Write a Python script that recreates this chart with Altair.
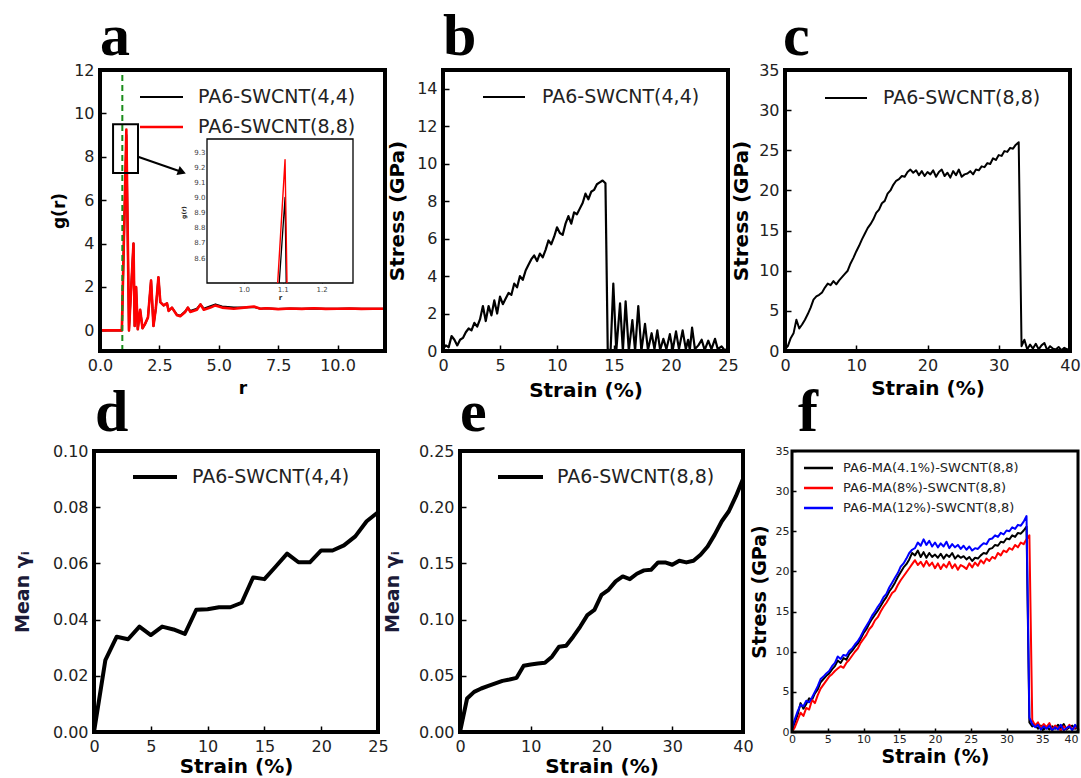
import altair as alt
import pandas as pd

FONT = "DejaVu Sans"
SERIF = "Liberation Serif"
LAB = "#222222"

letters = ["a", "b", "c", "d", "e", "f"]

# ---------------- (a) radial distribution function ----------------
a_r = [0.0, 0.92, 1.11, 1.22, 1.41, 1.46, 1.52, 1.59, 1.69, 1.79,
       1.90, 2.02, 2.15, 2.25, 2.35, 2.46, 2.54, 2.68, 2.82, 2.89,
       3.03, 3.24, 3.38, 3.59, 3.70, 3.80, 4.08, 4.23, 4.37, 4.65,
       4.86, 5.14, 5.63, 6.06, 6.48, 6.76, 7.0, 7.5, 8.0, 8.5,
       9.0, 9.5, 10.0, 10.5, 11.0, 11.5, 12.0]
a_g_44 = [0.0, 0.0, 9.0, 0.0, 4.0, 0.2, 2.0, 0.05, 0.95, 0.1,
          0.3, 0.6, 2.3, 0.2, 1.0, 2.45, 1.3, 1.15, 1.25, 0.9,
          1.05, 0.72, 0.68, 0.88, 1.05, 0.9, 1.0, 1.2, 1.0, 1.12,
          1.2, 1.1, 1.05, 1.05, 1.08, 1.0, 1.02, 0.99, 1.01, 1.0,
          1.01, 1.0, 1.0, 1.01, 1.0, 1.0, 1.0]
a_g_88 = [0.0, 0.0, 9.25, 0.0, 4.0, 0.2, 2.0, 0.05, 0.95, 0.1,
          0.3, 0.6, 2.3, 0.2, 1.0, 2.45, 1.3, 1.15, 1.25, 0.9,
          1.05, 0.7, 0.65, 0.85, 1.05, 0.85, 0.95, 1.2, 0.95, 1.05,
          1.15, 1.05, 1.0, 1.05, 1.1, 1.0, 1.02, 0.98, 1.01, 0.99,
          1.02, 0.99, 1.0, 1.01, 0.99, 1.0, 1.0]
a_xlim = [0.0, 12.0]
a_ylim = [-0.95, 12.0]
a_vline_r = [0.94]
a_zoom_r = [0.55, 1.6]
a_zoom_g = [7.25, 9.5]
a_arrow_r = [1.6, 3.45]
a_arrow_g = [8.0, 7.3]
a_labels = ["PA6-SWCNT(4,4)", "PA6-SWCNT(8,8)"]
ins_xlim = [0.905, 1.281]
ins_ylim = [8.436, 9.386]
ins_r_44 = [1.091, 1.106, 1.109]
ins_g_44 = [8.436, 9.0, 8.436]
ins_r_88 = [1.087, 1.106, 1.111]
ins_g_88 = [8.436, 9.25, 8.436]

# ---------------- (b) PA6-SWCNT(4,4) stress-strain ----------------
b_rise = [0.1, 0.3, 0.2, 0.8, 0.6, 0.3, 0.6, 0.7, 1.0, 1.2,
          1.1, 1.5, 1.3, 1.7, 2.4, 1.6, 2.4, 1.9, 2.7, 2.0,
          2.9, 2.5, 2.8, 3.1, 3.0, 3.6, 3.4, 4.0, 3.8, 4.3,
          4.6, 4.9, 5.1, 4.8, 5.2, 5.0, 5.4, 5.9, 5.7, 6.1,
          6.6, 6.3, 6.2, 6.8, 7.2, 6.8, 7.4, 7.3, 7.6, 7.9,
          8.4, 8.1, 8.5, 8.6, 8.9, 9.0, 9.1, 8.95]
b_post_s = [14.45, 14.7, 14.94, 15.2, 15.53, 15.78, 16.02, 16.3, 16.61, 16.85,
            17.13, 17.4, 17.72, 17.98, 18.3, 18.55, 18.8, 19.05, 19.33, 19.6,
            19.9, 20.15, 20.44, 20.7, 21.02, 21.3, 21.5, 21.65, 21.85, 22.1,
            22.4, 22.69, 22.95, 23.27, 23.55, 23.86, 24.1, 24.44, 24.75, 25.0]
b_post_v = [0.1, 0.0, 3.6, 0.0, 2.55, 0.0, 2.65, 0.0, 1.65, 0.0,
            2.4, 0.0, 1.45, 0.05, 0.95, 0.1, 1.1, 0.05, 0.65, 0.1,
            0.9, 0.05, 1.05, 0.1, 1.1, 0.1, 0.6, 0.05, 1.25, 0.1,
            0.3, 0.6, 0.05, 0.55, 0.1, 0.65, 0.1, 0.25, 0.0, 0.2]
b_label = ["PA6-SWCNT(4,4)"]

# ---------------- (c) PA6-SWCNT(8,8) stress-strain (step 0.4 %) ----------------
c_vals = [0.2, 0.6, 1.6, 2.2, 3.9, 2.8, 3.3, 3.9, 4.6, 5.4,
          6.4, 6.8, 7.0, 7.3, 7.9, 8.4, 8.2, 8.7, 8.3, 8.8,
          9.2, 9.6, 10.0, 10.9, 11.6, 12.4, 13.1, 13.9, 14.6, 15.3,
          15.8, 16.4, 17.2, 17.6, 18.4, 18.7, 19.6, 20.0, 20.7, 21.2,
          21.4, 21.8, 21.7, 22.3, 22.6, 22.2, 22.5, 21.9, 22.4, 21.8,
          22.3, 22.0, 22.5, 21.7, 22.3, 22.6, 21.8, 22.2, 21.6, 22.4,
          21.9, 22.6, 21.7, 22.0, 22.1, 22.4, 22.0, 22.6, 22.5, 23.0,
          22.9, 23.4, 23.3, 24.0, 23.8, 24.4, 24.3, 24.9, 24.8, 25.3,
          25.2, 25.7, 26.0, 0.6, 1.4, 0.2, 0.8, 0.3, 0.9, 0.2,
          0.7, 1.0, 0.1, 0.6, 0.3, 0.2, 0.5, 0.1, 0.4, 0.2,
          0.3]
c_label = ["PA6-SWCNT(8,8)"]

# ---------------- (d), (e) mean gamma_i ----------------
d_vals = [0.0, 0.0256, 0.0339, 0.033, 0.0375, 0.0345, 0.0375, 0.0365, 0.0349, 0.0435,
          0.0437, 0.0444, 0.0444, 0.046, 0.055, 0.0544, 0.0589, 0.0635, 0.0604, 0.0604,
          0.0646, 0.0646, 0.0664, 0.0696, 0.075, 0.0782]
e_vals = [0.0, 0.0298, 0.0357, 0.0387, 0.041, 0.0432, 0.0455, 0.0467, 0.0482, 0.0589,
          0.0601, 0.061, 0.0616, 0.067, 0.0759, 0.0768, 0.0848, 0.0938, 0.104, 0.1086,
          0.122, 0.1265, 0.134, 0.1384, 0.136, 0.1408, 0.1438, 0.1443, 0.1509, 0.1509,
          0.1488, 0.1524, 0.1509, 0.1524, 0.1577, 0.165, 0.1756, 0.1875, 0.1964, 0.2098,
          0.225]
d_label = ["PA6-SWCNT(4,4)"]
e_label = ["PA6-SWCNT(8,8)"]

# ---------------- (f) PA6-MA-SWCNT(8,8) (step 0.4 %) ----------------
f_black = [0.2, 1.2, 2.2, 3.6, 2.9, 3.5, 4.2, 4.0, 4.8, 5.3,
           6.2, 6.6, 7.0, 7.3, 7.8, 8.2, 8.9, 8.6, 9.2, 9.0,
           9.7, 10.1, 10.6, 11.0, 11.6, 12.3, 12.8, 13.5, 14.1, 14.6,
           15.1, 15.7, 16.3, 16.8, 17.5, 18.0, 18.6, 19.3, 19.9, 20.5,
           20.9, 21.5, 22.3, 22.0, 22.6, 21.8, 22.4, 21.7, 22.3, 21.8,
           22.1, 21.7, 22.2, 21.6, 22.1, 21.8, 22.3, 21.6, 22.0, 21.7,
           21.9, 21.5, 21.8, 21.3, 21.7, 21.6, 22.0, 22.3, 22.2, 22.8,
           22.9, 23.3, 23.2, 23.7, 23.6, 24.1, 24.0, 24.5, 24.3, 24.8,
           24.7, 25.1, 25.6, 1.2, 0.7, 0.9, 0.4, 0.8, 0.3, 0.6,
           0.3, 0.7, 0.4, 0.9, 0.5, 1.0, 0.3, 0.6, 0.8, 0.4,
           0.7]
f_red = [0.0, 0.6, 1.5, 2.4, 2.0, 3.0, 2.8, 4.0, 3.6, 4.6,
         5.4, 5.9, 6.4, 6.9, 7.2, 7.6, 7.9, 8.2, 8.0, 8.6,
         9.0, 9.5, 10.0, 10.4, 11.1, 11.6, 12.1, 12.8, 13.2, 13.9,
         14.3, 15.0, 15.6, 16.1, 16.7, 17.3, 17.6, 18.3, 18.9, 19.4,
         19.9, 20.4, 20.9, 21.4, 20.8, 21.2, 20.6, 21.3, 20.7, 21.1,
         20.4, 21.0, 20.3, 20.9, 20.5, 21.2, 20.4, 20.9, 20.2, 20.8,
         20.6, 20.3, 21.0, 20.5, 21.1, 20.7, 21.4, 21.0, 21.6, 21.3,
         21.8, 21.6, 22.3, 22.0, 22.6, 22.4, 22.9, 22.7, 23.3, 23.0,
         23.6, 23.4, 24.0, 24.5, 1.5, 0.8, 1.2, 0.5, 1.0, 0.6,
         1.1, 0.3, 0.8, 0.5, 0.2, 0.7, 0.4, 0.9, 0.3, 0.6,
         0.5]
f_blue = [0.4, 1.6, 2.6, 3.4, 3.2, 3.9, 3.7, 4.3, 5.0, 5.7,
          6.6, 6.9, 7.3, 7.6, 8.2, 8.6, 9.4, 9.1, 9.6, 9.5,
          10.1, 10.4, 10.9, 11.3, 11.9, 12.6, 13.2, 13.8, 14.5, 15.0,
          15.6, 16.1, 16.8, 17.2, 18.0, 18.6, 19.2, 19.8, 20.6, 21.0,
          21.6, 22.3, 22.7, 22.9, 23.6, 23.2, 24.0, 23.3, 23.8, 23.1,
          23.6, 23.0, 23.5, 23.1, 23.7, 22.9, 23.4, 23.0, 23.3, 22.8,
          23.2, 22.7, 23.1, 22.6, 22.9, 22.8, 23.2, 23.5, 23.4, 24.0,
          24.1, 24.5, 24.3, 24.8, 24.6, 25.1, 25.0, 25.5, 25.3, 25.8,
          25.7, 26.2, 26.9, 1.8, 1.0, 0.6, 0.9, 0.3, 0.7, 0.4,
          0.8, 0.2, 0.6, 0.3, 0.9, 0.2, 0.5, 0.7, 0.2, 0.9,
          0.4]
f_labels = ["PA6-MA(4.1%)-SWCNT(8,8)", "PA6-MA(8%)-SWCNT(8,8)", "PA6-MA(12%)-SWCNT(8,8)"]
f_colors = ["#000000", "#ff0000", "#0000ff"]


# ---------------- helpers ----------------
def make_scales(ox, oy, w, h, xdom, ydom):
    xs = alt.Scale(domain=xdom, range=[ox, ox + w], nice=False, zero=False)
    ys = alt.Scale(domain=ydom, range=[oy + h, oy], nice=False, zero=False)
    return xs, ys


def make_axes(ox, oy, w, h, H, xvals, yvals, xfmt, yfmt, xtitle, ytitle,
              xt_dy, yt_dx, lab_fs=16, xt_fs=20, yt_fs=20, xpad=6, ypad=6,
              tick=6, ytitle_color="black", xlabel_align="center"):
    xa = alt.Axis(values=xvals, format=xfmt, orient="bottom",
                  offset=-(H - oy - h) - tick, tickSize=tick, tickWidth=1.5,
                  tickColor="black", domain=False, grid=False, labelFlush=False,
                  labelOverlap=False, labelFont=FONT, labelFontSize=lab_fs,
                  labelColor=LAB, labelPadding=xpad, labelAlign=xlabel_align,
                  title=xtitle, titleFont=FONT, titleFontSize=xt_fs,
                  titleFontWeight="bold", titleColor="black",
                  titleX=ox + w / 2, titleY=xt_dy + tick, titleAlign="center",
                  titleBaseline="middle", titleAngle=0)
    ya = alt.Axis(values=yvals, format=yfmt, orient="left", offset=-(ox + tick),
                  tickSize=tick, tickWidth=1.5, tickColor="black", domain=False,
                  grid=False, labelFlush=False, labelOverlap=False, labelFont=FONT,
                  labelFontSize=lab_fs, labelColor=LAB, labelPadding=ypad,
                  title=ytitle, titleFont=FONT, titleFontSize=yt_fs,
                  titleFontWeight="bold", titleColor=ytitle_color,
                  titleX=yt_dx - tick, titleY=oy + h / 2, titleAlign="center",
                  titleBaseline="middle", titleAngle=270)
    return xa, ya


def line_layer(df, xf, yf, xs, ys, xa, ya, color, sw):
    return alt.Chart(df).mark_line(color=color, strokeWidth=sw, clip=True,
                                   strokeJoin="round").encode(
        x=alt.X(f"{xf}:Q", scale=xs, axis=xa),
        y=alt.Y(f"{yf}:Q", scale=ys, axis=ya))


def frame_layer(xdom, ydom, xs, ys, xa, ya, sw, fill_opacity=0.0, fill="white"):
    df = pd.DataFrame({"fx0": [xdom[0]], "fx1": [xdom[1]],
                       "fy0": [ydom[0]], "fy1": [ydom[1]]})
    return alt.Chart(df).mark_rect(fill=fill, fillOpacity=fill_opacity,
                                   stroke="black", strokeWidth=sw).encode(
        x=alt.X("fx0:Q", scale=xs, axis=xa), x2=alt.X2("fx1"),
        y=alt.Y("fy0:Q", scale=ys, axis=ya), y2=alt.Y2("fy1"))


def legend_rule(x1, x2, y, color, sw):
    return alt.Chart(pd.DataFrame({"k": [0]})).mark_rule(
        color=color, strokeWidth=sw).encode(
        x=alt.value(x1), x2=alt.value(x2), y=alt.value(y))


def legend_text(label, x, y, fs):
    return alt.Chart(pd.DataFrame({"label": [label]})).mark_text(
        align="left", baseline="middle", font=FONT, fontSize=fs,
        color=LAB).encode(x=alt.value(x), y=alt.value(y), text="label:N")


def letter_layer(ch, x, y):
    return alt.Chart(pd.DataFrame({"letter": [ch]})).mark_text(
        align="left", baseline="alphabetic", font=SERIF, fontSize=60,
        fontWeight="bold", color="black").encode(
        x=alt.value(x), y=alt.value(y), text="letter:N")


# ---------------- panel a ----------------
ox, oy, w, h, W, H = 6, 0, 285, 281, 349, 381
xs, ys = make_scales(ox, oy, w, h, a_xlim, a_ylim)
xa, ya = make_axes(ox, oy, w, h, H, [0, 2.5, 5, 7.5, 10], [0, 2, 4, 6, 8, 10, 12],
                   ".1f", "d", "r", "g(r)", 37, -41, xt_fs=17, yt_fs=17)
a_df = pd.DataFrame({"r": a_r, "g44": a_g_44, "g88": a_g_88})
a_main = alt.layer(
    line_layer(a_df, "r", "g44", xs, ys, xa, ya, "black", 2),
    line_layer(a_df, "r", "g88", xs, ys, xa, ya, "#ff0000", 2.6),
    alt.Chart(pd.DataFrame({"r": a_vline_r, "lo": [a_ylim[0]], "hi": [a_ylim[1]]}))
    .mark_rule(color="#1a8c1a", strokeWidth=2, strokeDash=[6, 4]).encode(
        x=alt.X("r:Q", scale=xs, axis=xa), y=alt.Y("lo:Q", scale=ys, axis=ya),
        y2=alt.Y2("hi")),
    frame_layer(a_zoom_r, a_zoom_g, xs, ys, xa, ya, 2),
    alt.Chart(pd.DataFrame({"r": a_arrow_r, "g": a_arrow_g})).mark_line(
        color="black", strokeWidth=2).encode(
        x=alt.X("r:Q", scale=xs, axis=xa), y=alt.Y("g:Q", scale=ys, axis=ya)),
    alt.Chart(pd.DataFrame({"r": a_arrow_r[1:], "g": a_arrow_g[1:]})).mark_point(
        shape="triangle-right", filled=True, color="black", size=90, angle=20,
        opacity=1).encode(
        x=alt.X("r:Q", scale=xs, axis=xa), y=alt.Y("g:Q", scale=ys, axis=ya)),
    frame_layer(a_xlim, a_ylim, xs, ys, xa, ya, 4),
)
ixs = alt.Scale(domain=ins_xlim, range=[ox + 107, ox + 253], nice=False, zero=False)
iys = alt.Scale(domain=ins_ylim, range=[oy + 213, oy + 69], nice=False, zero=False)
ixa = alt.Axis(values=[1.0, 1.1, 1.2], format=".1f", orient="bottom",
               offset=(oy + 213 - 3) - H, tickSize=3, tickWidth=0.8,
               tickColor="black", domain=False, grid=False, labelFlush=False,
               labelOverlap=False, labelFont=FONT, labelFontSize=7,
               labelColor="#444444", labelPadding=2, title="r", titleFont=FONT,
               titleFontSize=7, titleFontWeight="bold", titleColor="#222222",
               titleX=186, titleY=17, titleAlign="center", titleBaseline="middle",
               titleAngle=0)
iya = alt.Axis(values=[8.6, 8.7, 8.8, 8.9, 9.0, 9.1, 9.2, 9.3], format=".1f",
               orient="left", offset=-(ox + 107 + 3), tickSize=3, tickWidth=0.8,
               tickColor="black", domain=False, grid=False, labelFlush=False,
               labelOverlap=False, labelFont=FONT, labelFontSize=7,
               labelColor="#444444", labelPadding=2, title="g(r)", titleFont=FONT,
               titleFontSize=6, titleFontWeight="bold", titleColor="#222222",
               titleX=-27, titleY=oy + 142, titleAlign="center",
               titleBaseline="middle", titleAngle=270)
ins44 = pd.DataFrame({"r": ins_r_44, "g": ins_g_44})
ins88 = pd.DataFrame({"r": ins_r_88, "g": ins_g_88})
a_inset = alt.layer(
    frame_layer(ins_xlim, ins_ylim, ixs, iys, ixa, iya, 1.3, fill_opacity=1.0),
    line_layer(ins44, "r", "g", ixs, iys, ixa, iya, "black", 1.3),
    line_layer(ins88, "r", "g", ixs, iys, ixa, iya, "#ff0000", 1.4),
)
panel_a = alt.layer(
    a_main, a_inset,
    legend_rule(ox + 40, ox + 83, oy + 27, "black", 2),
    legend_text(a_labels[0], ox + 98, oy + 27, 19),
    legend_rule(ox + 40, ox + 83, oy + 57, "#ff0000", 2.4),
    legend_text(a_labels[1], ox + 98, oy + 57, 19),
    letter_layer(letters[0], ox + 0, oy - 15),
).resolve_scale(x="independent", y="independent").properties(width=W, height=H)

# ---------------- panel b ----------------
ox, oy, w, h, W, H = 0, 0, 285, 281, 342, 381
b_strain = [round(0.25 * i, 2) for i in range(len(b_rise))] + b_post_s
b_df = pd.DataFrame({"strain": b_strain, "stress": b_rise + b_post_v})
xs, ys = make_scales(ox, oy, w, h, [0, 25], [0, 15])
xa, ya = make_axes(ox, oy, w, h, H, [0, 5, 10, 15, 20, 25], [0, 2, 4, 6, 8, 10, 12, 14],
                   "d", "d", "Strain (%)", "Stress (GPa)", 39, -46)
panel_b = alt.layer(
    line_layer(b_df, "strain", "stress", xs, ys, xa, ya, "black", 2.2),
    frame_layer([0, 25], [0, 15], xs, ys, xa, ya, 4),
    legend_rule(ox + 40, ox + 82, oy + 27, "black", 2),
    legend_text(b_label[0], ox + 99, oy + 27, 19),
    letter_layer(letters[1], ox + 0, oy - 15),
).properties(width=W, height=H)

# ---------------- panel c ----------------
ox, oy, w, h, W, H = 0, 0, 285, 281, 293, 381
c_df = pd.DataFrame({"strain": [round(0.4 * i, 1) for i in range(len(c_vals))],
                     "stress": c_vals})
xs, ys = make_scales(ox, oy, w, h, [0, 40], [0, 35])
xa, ya = make_axes(ox, oy, w, h, H, [0, 10, 20, 30, 40], [0, 5, 10, 15, 20, 25, 30, 35],
                   "d", "d", "Strain (%)", "Stress (GPa)", 37, -44)
panel_c = alt.layer(
    line_layer(c_df, "strain", "stress", xs, ys, xa, ya, "black", 2),
    frame_layer([0, 40], [0, 35], xs, ys, xa, ya, 4),
    legend_rule(ox + 40, ox + 82, oy + 28, "black", 2),
    legend_text(c_label[0], ox + 98, oy + 28, 19),
    letter_layer(letters[2], ox - 2, oy - 15),
).properties(width=W, height=H)

# ---------------- panel d ----------------
ox, oy, w, h, W, H = 0, 0, 284, 281, 349, 281
d_df = pd.DataFrame({"strain": list(range(len(d_vals))), "gamma": d_vals})
xs, ys = make_scales(ox, oy, w, h, [0, 25], [0, 0.1])
xa, ya = make_axes(ox, oy, w, h, H, [0, 5, 10, 15, 20, 25],
                   [0, 0.02, 0.04, 0.06, 0.08, 0.10], "d", ".2f",
                   "Strain (%)", "Mean γᵢ", 34, -72, yt_fs=19, ytitle_color="#1b1b38")
panel_d = alt.layer(
    line_layer(d_df, "strain", "gamma", xs, ys, xa, ya, "black", 4),
    frame_layer([0, 25], [0, 0.1], xs, ys, xa, ya, 4),
    legend_rule(ox + 39, ox + 83, oy + 26, "black", 4),
    legend_text(d_label[0], ox + 98, oy + 26, 19),
    letter_layer(letters[3], ox + 1, oy - 20),
).properties(width=W, height=H)

# ---------------- panel e ----------------
ox, oy, w, h, W, H = 17, 0, 283, 281, 342, 281
e_df = pd.DataFrame({"strain": list(range(len(e_vals))), "gamma": e_vals})
xs, ys = make_scales(ox, oy, w, h, [0, 40], [0, 0.25])
xa, ya = make_axes(ox, oy, w, h, H, [0, 10, 20, 30, 40],
                   [0, 0.05, 0.10, 0.15, 0.20, 0.25], "d", ".2f",
                   "Strain (%)", "Mean γᵢ", 34, -68, yt_fs=19, ytitle_color="#1b1b38")
panel_e = alt.layer(
    line_layer(e_df, "strain", "gamma", xs, ys, xa, ya, "black", 4),
    frame_layer([0, 40], [0, 0.25], xs, ys, xa, ya, 4),
    legend_rule(ox + 38, ox + 83, oy + 26, "black", 4),
    legend_text(e_label[0], ox + 97, oy + 26, 19),
    letter_layer(letters[4], ox + 0, oy - 20),
).properties(width=W, height=H)

# ---------------- panel f ----------------
ox, oy, w, h, W, H = 7, 0, 286, 281, 293, 281
f_strain = [round(0.4 * i, 1) for i in range(len(f_black))]
f_df = pd.DataFrame({"strain": f_strain, "black": f_black, "red": f_red, "blue": f_blue})
xs, ys = make_scales(ox, oy, w, h, [0, 40], [0, 35])
xa, ya = make_axes(ox, oy, w, h, H, [0, 5, 10, 15, 20, 25, 30, 35, 40],
                   [0, 5, 10, 15, 20, 25, 30, 35], "d", "d",
                   "Strain (%)", "Stress (GPa)", 24, -33, lab_fs=11, xpad=1,
                   ypad=3, tick=4, xt_fs=19, yt_fs=19,
                   xlabel_align={"condition": {"test": "datum.value >= 40",
                                               "value": "right"},
                                 "value": "center"})
panel_f = alt.layer(
    line_layer(f_df, "strain", "black", xs, ys, xa, ya, f_colors[0], 2),
    line_layer(f_df, "strain", "red", xs, ys, xa, ya, f_colors[1], 2),
    line_layer(f_df, "strain", "blue", xs, ys, xa, ya, f_colors[2], 2),
    frame_layer([0, 40], [0, 35], xs, ys, xa, ya, 3),
    legend_rule(ox + 12, ox + 41, oy + 17, f_colors[0], 2.5),
    legend_text(f_labels[0], ox + 51, oy + 17, 13),
    legend_rule(ox + 12, ox + 41, oy + 37, f_colors[1], 2.5),
    legend_text(f_labels[1], ox + 51, oy + 37, 13),
    legend_rule(ox + 12, ox + 41, oy + 57, f_colors[2], 2.5),
    legend_text(f_labels[2], ox + 51, oy + 57, 13),
    letter_layer(letters[5], ox + 6, oy - 20),
).properties(width=W, height=H)

chart = alt.concat(
    panel_a, panel_b, panel_c, panel_d, panel_e, panel_f,
    columns=3, spacing=0, bounds="flush", align="each",
).properties(
    padding={"left": 13, "top": 7, "right": 0, "bottom": 0},
    background="white",
).configure_view(stroke=None)

chart.save("out.html", embed_options={"renderer": "svg", "actions": False})
